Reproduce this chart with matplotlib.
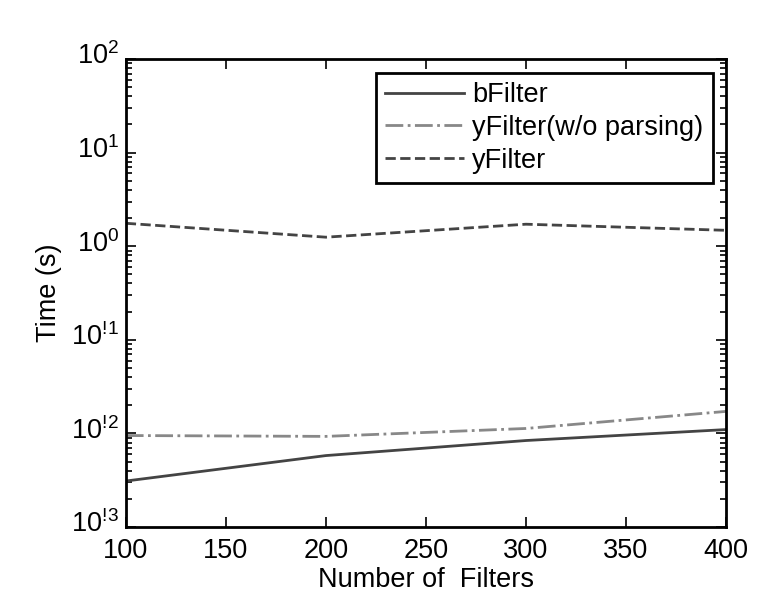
import matplotlib
matplotlib.use("Agg")
import matplotlib.pyplot as plt
import matplotlib.transforms as mtransforms
from matplotlib.ticker import FixedLocator, LogLocator, NullFormatter, FixedFormatter

plt.rcParams['font.family'] = ['Liberation Sans', 'DejaVu Sans']
plt.rcParams['mathtext.fontset'] = 'custom'
plt.rcParams['mathtext.rm'] = 'Liberation Sans'

# data
filters = [100, 200, 300, 400]
bfilter = [0.0031, 0.0058, 0.0084, 0.0110]
yfilter_noparse = [0.0095, 0.0093, 0.0113, 0.0172]
yfilter = [1.76, 1.25, 1.72, 1.48]

x_ticks = [100, 150, 200, 250, 300, 350, 400]
y_ticks = [1e-3, 1e-2, 1e-1, 1e0, 1e1, 1e2]
y_ticklabels = [r'$\mathrm{10^{!\!3}}$', r'$\mathrm{10^{!\!2}}$', r'$\mathrm{10^{!\!1}}$',
                r'$\mathrm{10^{0}}$', r'$\mathrm{10^{1}}$', r'$\mathrm{10^{2}}$']

fig = plt.figure(figsize=(7.67, 6.09), dpi=100)
ax = fig.add_axes([0.164, 0.1346, 0.7826, 0.7684])

ax.plot(filters, bfilter, '-', color='#444444', lw=2.0, label='bFilter')
ax.plot(filters, yfilter_noparse, '-.', color='#888888', lw=2.0, label='yFilter(w/o parsing)')
ax.plot(filters, yfilter, '--', color='#444444', lw=2.0, label='yFilter')

ax.set_yscale('log')
ax.set_xlim(100, 400)
ax.set_ylim(1e-3, 1e2)
ax.xaxis.set_major_locator(FixedLocator(x_ticks))
ax.yaxis.set_major_locator(FixedLocator(y_ticks))
ax.yaxis.set_major_formatter(FixedFormatter(y_ticklabels))
ax.yaxis.set_minor_locator(LogLocator(base=10, subs=range(2, 10), numticks=20))
ax.yaxis.set_minor_formatter(NullFormatter())

ax.tick_params(which='both', direction='in', top=True, right=True, width=1.2)
ax.tick_params(which='major', length=7, labelsize=19.5)
ax.tick_params(axis='x', which='major', pad=8)
ax.tick_params(axis='y', which='major', pad=5)
ax.tick_params(which='minor', length=4)
for s in ax.spines.values():
    s.set_linewidth(2.0)

# y labels sit a little above their ticks in the original
shift = mtransforms.ScaledTranslation(0, 4 / 72, fig.dpi_scale_trans)
for lbl in ax.get_yticklabels():
    lbl.set_transform(lbl.get_transform() + shift)

ax.set_xlabel('Number of  Filters', fontsize=19.5, labelpad=2)
ax.set_ylabel('Time (s)', fontsize=19.5, labelpad=6)

leg = ax.legend(loc='upper right', fontsize=19.5, handlelength=2.9, handletextpad=0.3,
                borderaxespad=0.5, labelspacing=0.25, fancybox=False,
                framealpha=1, borderpad=0.35)
leg.get_frame().set_edgecolor('black')
leg.get_frame().set_linewidth(2.0)

fig.savefig('out.png', dpi=100, facecolor='white')
